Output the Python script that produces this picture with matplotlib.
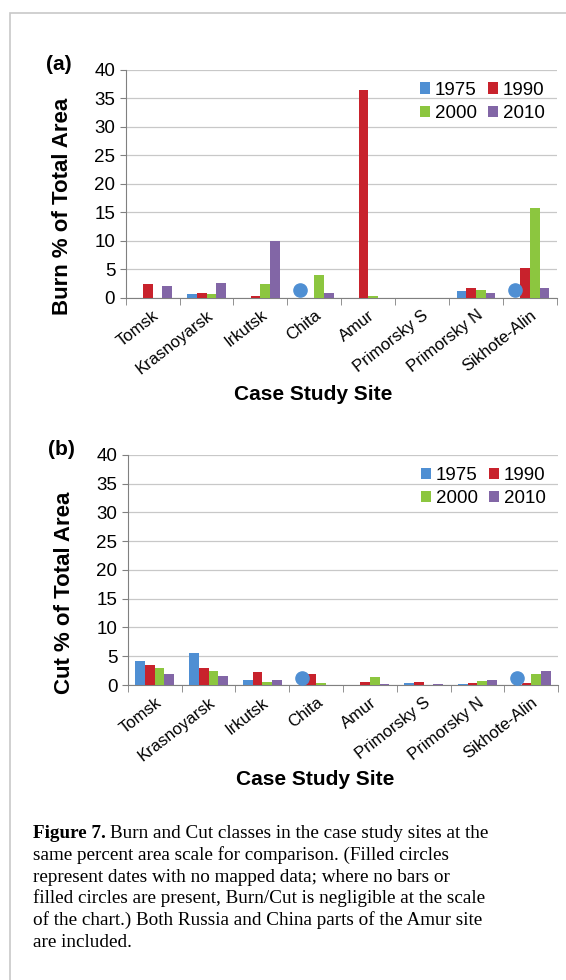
import numpy as np
import matplotlib.pyplot as plt

sites = ["Tomsk", "Krasnoyarsk", "Irkutsk", "Chita", "Amur",
         "Primorsky S", "Primorsky N", "Sikhote-Alin"]
years = ["1975", "1990", "2000", "2010"]
colors = ["#4f8fd3", "#c8222c", "#8cc63f", "#8266a6"]

# Burn % of total area (nan = no mapped data, drawn as a circle)
burn_1975 = [0, 0.7, 0, np.nan, 0, 0, 1.2, np.nan]
burn_1990 = [2.4, 0.8, 0.3, 0, 36.4, 0, 1.7, 5.2]
burn_2000 = [0, 0.6, 2.5, 4.0, 0.3, 0, 1.4, 15.8]
burn_2010 = [2.1, 2.6, 10.0, 0.8, 0, 0, 0.9, 1.8]

# Cut % of total area
cut_1975 = [4.2, 5.6, 0.8, np.nan, 0, 0.4, 0.1, np.nan]
cut_1990 = [3.4, 2.9, 2.3, 2.0, 0.5, 0.5, 0.4, 0.3]
cut_2000 = [3.0, 2.4, 0.6, 0.4, 1.4, 0.05, 0.7, 1.9]
cut_2010 = [1.9, 1.5, 0.8, 0.0, 0.2, 0.1, 0.9, 2.5]

caption_lines = [
    "same percent area scale for comparison. (Filled circles",
    "represent dates with no mapped data; where no bars or",
    "filled circles are present, Burn/Cut is negligible at the scale",
    "of the chart.) Both Russia and China parts of the Amur site",
    "are included.",
]

plt.rcParams['font.family'] = ['Liberation Sans', 'DejaVu Sans']

fig = plt.figure(figsize=(5.66, 9.8), dpi=100)

# light frame around the figure
frame = plt.Rectangle((10 / 566, -0.01), 1.0, 1 - 13 / 980 + 0.01,
                      transform=fig.transFigure, fill=False,
                      edgecolor="#c8c8c8", lw=1.2)
fig.patches.append(frame)


def panel(ax, series, ylabel, tag, xlab_y):
    x = np.arange(len(sites))
    w = 0.18
    for i, (vals, c, yr) in enumerate(zip(series, colors, years)):
        vals = np.array(vals, dtype=float)
        pos = x + (i - 1.5) * w
        ax.bar(pos, np.nan_to_num(vals), width=w, color=c, label=yr, zorder=3)
        miss = np.isnan(vals)
        if miss.any():
            ax.plot(pos[miss], np.full(miss.sum(), 1.3), "o", color=c,
                    ms=9.5, zorder=4)
    ax.set_xlim(-0.5, len(sites) - 0.5)
    ax.set_ylim(0, 40)
    ax.set_yticks(range(0, 41, 5))
    ax.yaxis.grid(True, color="#c8c8c8", lw=0.9, zorder=0)
    ax.set_xticks(x)
    ax.set_xticklabels(sites, rotation=38, ha="right", rotation_mode="anchor",
                       fontsize=12)
    ax.set_xticks(np.arange(-0.5, len(sites)), minor=True)
    ax.tick_params(axis="x", which="major", length=0, pad=7)
    ax.tick_params(axis="x", which="minor", length=5, color="#808080")
    ax.tick_params(axis="y", labelsize=13.5, length=4, color="#808080")
    for s in ["top", "right"]:
        ax.spines[s].set_visible(False)
    for s in ["left", "bottom"]:
        ax.spines[s].set_color("#808080")
    ax.set_ylabel(ylabel, fontsize=16, fontweight="bold")
    ax.yaxis.set_label_coords(-0.123, 0.40)
    ax.set_xlabel("Case Study Site", fontsize=15, fontweight="bold")
    ax.xaxis.set_label_coords(0.435, xlab_y)
    ax.xaxis.label.set_va("center")
    h, l = ax.get_legend_handles_labels()
    order = [0, 2, 1, 3]
    ax.legend([h[k] for k in order], [l[k] for k in order], ncol=2,
              loc="upper right", frameon=False, fontsize=13.5,
              handlelength=0.55, handleheight=0.55, handletextpad=0.25,
              columnspacing=0.6, borderaxespad=0.25, labelspacing=0.35)
    ax.text(-0.185, 1.0, tag, transform=ax.transAxes, fontsize=15,
            fontweight="bold", va="baseline")


ax1 = fig.add_axes([0.222, 0.696, 0.762, 0.233])
panel(ax1, [burn_1975, burn_1990, burn_2000, burn_2010],
      "Burn % of Total Area", "(a)", -0.425)

ax2 = fig.add_axes([0.226, 0.301, 0.760, 0.235])
panel(ax2, [cut_1975, cut_1990, cut_2000, cut_2010],
      "Cut % of Total Area", "(b)", -0.41)

# caption
fs = 13.8
x0 = 33 / 566
base0 = 838
step = 21.8
t_bold = fig.text(x0, 1 - base0 / 980, "Figure 7.", family="Liberation Serif",
                  fontweight="bold", fontsize=fs, va="baseline")
fig.canvas.draw()
bb = t_bold.get_window_extent()
fig.text((bb.x1 + 4) / 566, 1 - base0 / 980,
         "Burn and Cut classes in the case study sites at the",
         family="Liberation Serif", fontsize=fs, va="baseline")
for k, line in enumerate(caption_lines):
    fig.text(x0, 1 - (base0 + step * (k + 1)) / 980, line,
             family="Liberation Serif", fontsize=fs, va="baseline")

fig.savefig("out.png", dpi=100)
